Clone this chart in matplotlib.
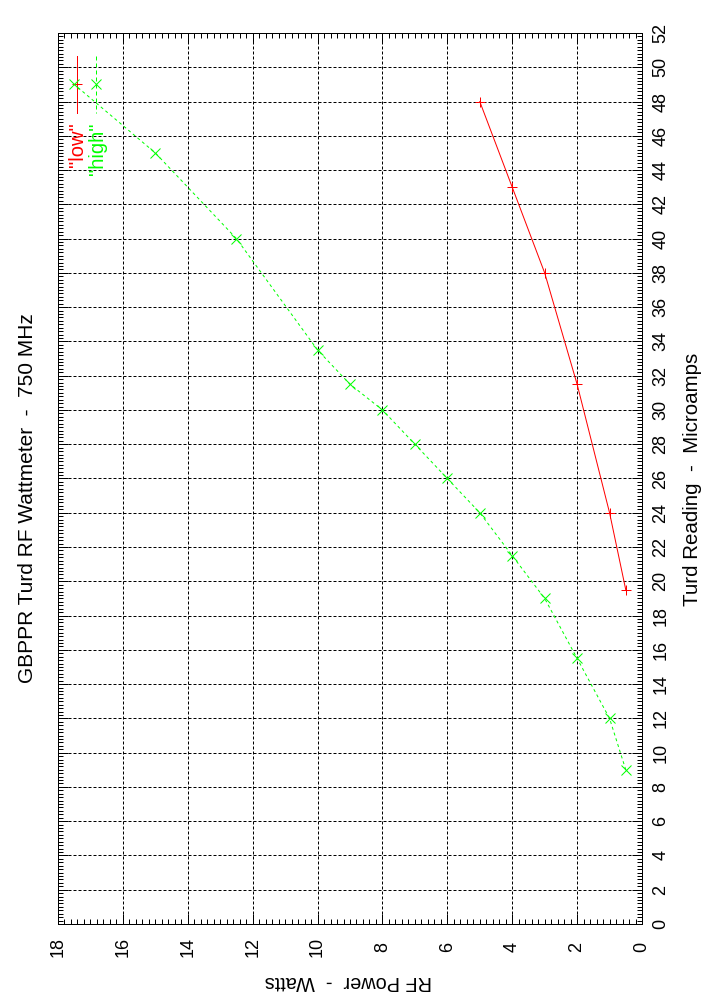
import matplotlib
matplotlib.use("Agg")
import matplotlib.pyplot as plt
from matplotlib.ticker import MultipleLocator

# Data (RF power in watts vs. Turd reading in microamps)
low_power = [0.5, 1, 2, 3, 4, 5]
low_microamps = [19.5, 24, 31.5, 38, 43, 48]

high_power = [0.5, 1, 2, 3, 4, 5, 6, 7, 8, 9, 10, 12.5, 15, 17.5]
high_microamps = [9, 12, 15.5, 19, 21.5, 24, 26, 28, 30, 31.5, 33.5, 40, 45, 49]

power_ticks = list(range(0, 19, 2))
microamp_ticks = list(range(0, 53, 2))

title = "GBPPR Turd RF Wattmeter  -  750 MHz"
microamp_label = "Turd Reading  -  Microamps"
power_label = "RF Power  -  Watts"
series_names = ['"low"', '"high"']

plt.rcParams['font.family'] = ['Liberation Sans', 'DejaVu Sans']

W, H = 701, 1001
fig = plt.figure(figsize=(W / 100, H / 100), dpi=100)
L, R, T, B = 58, 642, 33, 924
ax = fig.add_axes([L / W, 1 - B / H, (R - L) / W, (B - T) / H])

RED = '#ff0000'
GREEN = '#00ff00'
px = 0.72

ax.plot(low_power, low_microamps, color=RED, lw=px, marker='+', ms=7.5, mew=px, zorder=3)
ax.plot(high_power, high_microamps, color=GREEN, lw=px, ls=(0, (3, 3)), marker='x', ms=6.5, mew=px, zorder=3)

ax.set_xlim(18, 0)
ax.set_ylim(0, 52)
ax.set_xticks(power_ticks)
ax.set_yticks(microamp_ticks)
ax.xaxis.set_minor_locator(MultipleLocator(0.2))
ax.yaxis.set_minor_locator(MultipleLocator(0.2))
ax.yaxis.tick_right()
ax.tick_params(which='both', direction='in', top=True, bottom=True, left=True, right=True, width=px, colors='black')
ax.tick_params(which='major', length=7.2, labelsize=13)
ax.tick_params(which='minor', length=3.8)
ax.tick_params(axis='x', which='major', pad=16.5, labelrotation=90)
ax.tick_params(axis='y', which='major', pad=13.7, labelrotation=90, labelleft=False, labelright=True)
for lbl in ax.get_xticklabels():
    lbl.set_va('center')
for lbl in ax.get_yticklabels():
    lbl.set_ha('center')
    lbl.set_va('center')

ax.grid(True, which='major', color='black', lw=px, ls=(0, (3, 2)))
for s in ax.spines.values():
    s.set_linewidth(px)
    s.set_color('black')

# Titles / labels (chart rotated 90 degrees)
fig.text(28 / W, 1 - 498 / H, title, rotation=90, ha='center', va='center', fontsize=15)
fig.text(692 / W, 1 - 479 / H, microamp_label, rotation=90, ha='center', va='center', fontsize=14.8)
fig.text(348 / W, 1 - 981 / H, power_label, rotation=180, ha='center', va='center', fontsize=14.3)

# Legend (rotated key)
def ax_xy(x, y):
    return ((x - L) / (R - L), (B - y) / (B - T))

x0, y0 = ax_xy(77, 56)
x1, y1 = ax_xy(77, 113)
ax.plot([x0, x1], [y0, y1], color=RED, lw=px, transform=ax.transAxes, clip_on=False)
xm, ym = ax_xy(77, 84)
ax.plot([xm], [ym], color=RED, marker='+', ms=7.5, mew=px, transform=ax.transAxes, clip_on=False)
x0, y0 = ax_xy(96, 56)
x1, y1 = ax_xy(96, 113)
ax.plot([x0, x1], [y0, y1], color=GREEN, lw=px, ls=(0, (4, 3)), transform=ax.transAxes, clip_on=False)
xm, ym = ax_xy(96, 84)
ax.plot([xm], [ym], color=GREEN, marker='x', ms=6.5, mew=px, transform=ax.transAxes, clip_on=False)

tx, ty = ax_xy(77, 145)
ax.text(tx, ty, series_names[0], color=RED, rotation=90, ha='center', va='center', fontsize=14.5, transform=ax.transAxes)
tx, ty = ax_xy(97, 149)
ax.text(tx, ty, series_names[1], color=GREEN, rotation=90, ha='center', va='center', fontsize=14.5, transform=ax.transAxes)

fig.savefig('out.png', dpi=100)
